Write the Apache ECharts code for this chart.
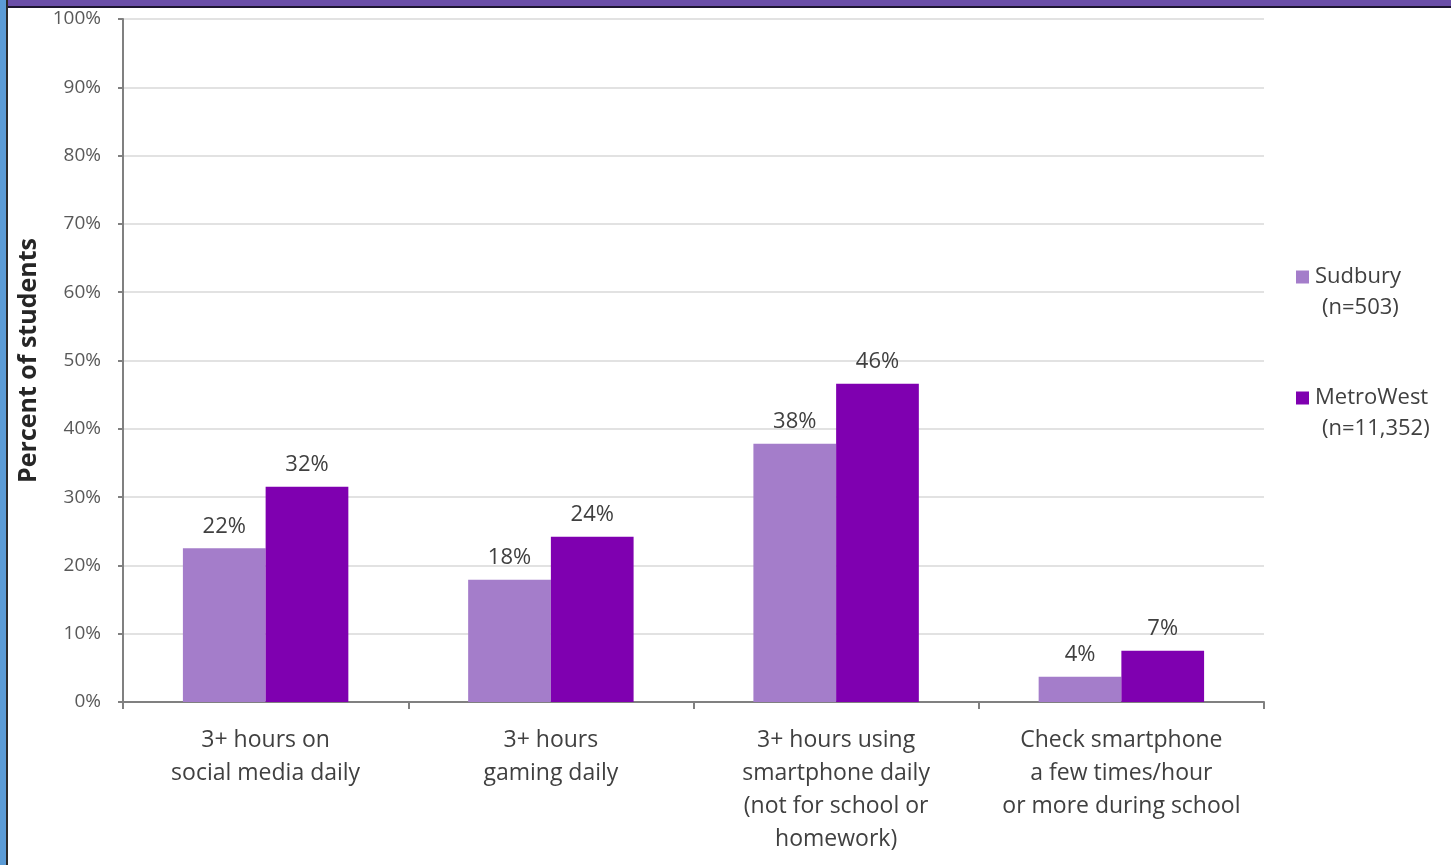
<!DOCTYPE html>
<html>
<head>
<meta charset="utf-8">
<script src="https://cdn.jsdelivr.net/npm/echarts@6/dist/echarts.min.js"></script>
<style>
html,body{margin:0;padding:0;background:#fff;overflow:hidden;}
#chart{position:absolute;left:0;top:0;width:1451px;height:865px;}
#topband{position:absolute;left:0;top:0;width:1451px;height:6px;background:#6a4ea8;border-bottom:2px solid #1c1530;}
#leftband{position:absolute;left:0;top:0;width:6px;height:865px;background:#5b9bd5;border-right:2px solid #2a2a2a;}
</style>
</head>
<body>
<div id="chart"></div>
<div id="topband"></div>
<div id="leftband"></div>
<script>
const categories = [
  "3+ hours on\nsocial media daily",
  "3+ hours\ngaming daily",
  "3+ hours using\nsmartphone daily\n(not for school or\nhomework)",
  "Check smartphone\na few times/hour\nor more during school"
];
const seriesNames = ["Sudbury", "MetroWest"];
const seriesSubtitles = ["(n=503)", "(n=11,352)"];
const sudburyValues = [22.5, 17.9, 37.8, 3.7];
const metroWestValues = [31.5, 24.2, 46.6, 7.5];
const sudburyLabels = ["22%", "18%", "38%", "4%"];
const metroWestLabels = ["32%", "24%", "46%", "7%"];
const yTicks = [0, 10, 20, 30, 40, 50, 60, 70, 80, 90, 100];

const FONT = "'Open Sans', Lato, sans-serif";
const chart = echarts.init(document.getElementById('chart'));
chart.setOption({
  animation: false,
  textStyle: { fontFamily: FONT },
  grid: { left: 123, right: 187, top: 19, bottom: 163, containLabel: false },
  legend: {
    orient: 'vertical',
    left: 1296, top: 266,
    padding: 0,
    itemWidth: 13, itemHeight: 13,
    itemGap: 99,
    icon: 'rect',
    data: seriesNames,
    textStyle: { fontSize: 22, color: '#404040', fontFamily: FONT, padding: [0, 0, 0, 1] }
  },
  graphic: [
    { type: 'text', left: 1322, top: 297, style: { text: seriesSubtitles[0], fontSize: 22, fill: '#404040', fontFamily: FONT } },
    { type: 'text', left: 1322, top: 418, style: { text: seriesSubtitles[1], fontSize: 22, fill: '#404040', fontFamily: FONT } }
  ],
  xAxis: {
    type: 'category',
    data: categories,
    axisLine: { lineStyle: { color: '#808080', width: 2 } },
    axisTick: { show: true, length: 7, lineStyle: { color: '#808080', width: 2 } },
    axisLabel: { fontSize: 23, color: '#404040', lineHeight: 33, margin: 22, interval: 0, fontFamily: FONT }
  },
  yAxis: {
    type: 'value',
    min: 0, max: 100, interval: 10,
    name: 'Percent of students',
    nameLocation: 'middle',
    nameGap: 82,
    nameTextStyle: { fontSize: 25, fontWeight: 'bold', color: '#262626', fontFamily: FONT },
    axisLine: { show: true, lineStyle: { color: '#808080', width: 2 } },
    axisTick: { show: true, length: 5, lineStyle: { color: '#808080', width: 2 } },
    axisLabel: {
      fontSize: 19, color: '#595959', margin: 22, fontFamily: FONT,
      formatter: v => (yTicks.indexOf(v) >= 0 ? v + '%' : '')
    },
    splitLine: { lineStyle: { color: '#d9d9d9', width: 1.5 } }
  },
  series: [
    {
      name: seriesNames[0], type: 'bar', data: sudburyValues,
      barGap: '0%', barCategoryGap: '42%',
      itemStyle: { color: '#a47dca' },
      label: { show: true, position: 'top', distance: 11, fontSize: 22, color: '#404040', fontFamily: FONT,
               formatter: p => sudburyLabels[p.dataIndex] }
    },
    {
      name: seriesNames[1], type: 'bar', data: metroWestValues,
      barGap: '0%', barCategoryGap: '42%',
      itemStyle: { color: '#7f00b0' },
      label: { show: true, position: 'top', distance: 11, fontSize: 22, color: '#404040', fontFamily: FONT,
               formatter: p => metroWestLabels[p.dataIndex] }
    }
  ]
});
</script>
</body>
</html>
